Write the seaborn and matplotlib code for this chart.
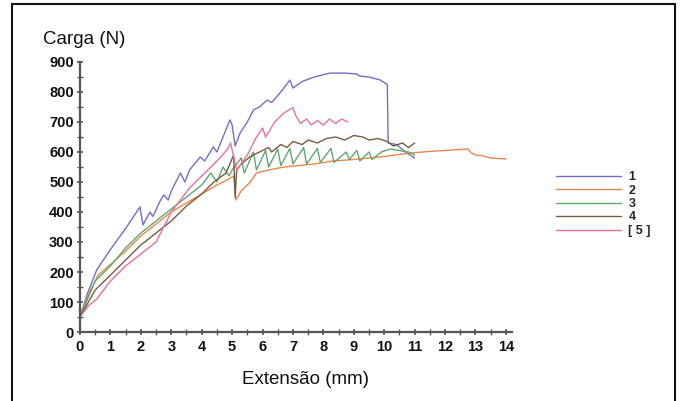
import matplotlib
matplotlib.use("Agg")
import matplotlib.pyplot as plt
from matplotlib.patches import Rectangle
from matplotlib.ticker import MultipleLocator
import seaborn as sns
import pandas as pd

sns.set_style("ticks")
plt.rcParams['font.family'] = ['Liberation Sans', 'DejaVu Sans']

# ---- data ----
labels = ["1", "2", "3", "4", "[ 5 ]"]

x1 = [0, 0.25, 0.55, 1.0, 1.5, 1.97, 2.07, 2.3, 2.4, 2.6, 2.75, 2.9, 3.0, 3.3, 3.45, 3.6, 3.95, 4.1, 4.38, 4.5,
      4.7, 4.93, 5.0, 5.1, 5.26, 5.5, 5.7, 5.9, 6.15, 6.3, 6.6, 6.9, 7.0, 7.3, 7.7, 8.2, 8.7, 9.1, 9.2, 9.5,
      9.87, 10.1, 10.13, 10.4, 10.7, 11.0]
y1 = [50, 130, 207, 275, 345, 417, 357, 400, 385, 430, 457, 440, 470, 530, 500, 540, 583, 570, 617, 600,
      650, 707, 690, 620, 663, 700, 740, 750, 773, 765, 800, 840, 813, 835, 850, 863, 863, 860, 853, 850,
      840, 825, 630, 625, 600, 580]

x2 = [0, 0.3, 0.6, 1.0, 1.5, 2.0, 2.5, 3.0, 3.5, 4.0, 4.5, 4.9, 5.05, 5.12, 5.3, 5.6, 5.8, 6.2, 6.7, 7.2,
      7.7, 8.3, 9.0, 9.5, 10.0, 10.5, 11.0, 11.5, 12.0, 12.4, 12.75, 12.85, 13.0, 13.2, 13.5, 13.8, 14.0]
y2 = [50, 130, 190, 225, 270, 320, 360, 400, 430, 460, 490, 510, 520, 440, 470, 500, 530, 540, 550, 555,
      560, 570, 575, 580, 585, 592, 598, 602, 605, 608, 610, 598, 590, 588, 580, 578, 577]

x3 = [0, 0.5, 1.0, 1.5, 2.0, 2.5, 3.0, 3.5, 4.0, 4.3, 4.5, 4.7, 4.9, 5.0, 5.3, 5.4, 5.7, 5.8, 6.1, 6.2,
      6.5, 6.6, 6.9, 7.0, 7.35, 7.45, 7.8, 7.9, 8.25, 8.35, 8.75, 8.85, 9.1, 9.2, 9.5, 9.6, 9.9, 10.2, 10.5,
      10.8, 11.0]
y3 = [50, 170, 220, 280, 330, 370, 410, 450, 490, 530, 500, 550, 520, 540, 580, 530, 600, 540, 605, 550,
      610, 555, 612, 560, 615, 560, 612, 565, 612, 565, 600, 575, 605, 570, 600, 575, 600, 610, 605,
      600, 590]

x4 = [0, 0.5, 1.0, 1.5, 2.0, 2.5, 3.0, 3.5, 4.0, 4.4, 4.8, 5.05, 5.1, 5.15, 5.3, 5.6, 5.9, 6.2, 6.3, 6.6,
      6.8, 7.0, 7.3, 7.5, 7.8, 8.1, 8.4, 8.7, 9.0, 9.3, 9.5, 9.8, 10.1, 10.3, 10.6, 10.8, 11.0]
y4 = [50, 140, 190, 240, 290, 330, 370, 420, 460, 500, 530, 590, 450, 540, 560, 585, 600, 615, 600, 625,
      615, 635, 625, 640, 630, 645, 650, 640, 655, 650, 640, 645, 635, 620, 630, 615, 630]

x5 = [0, 0.3, 0.55, 1.0, 1.5, 2.0, 2.5, 3.0, 3.6, 4.3, 4.6, 4.85, 4.95, 5.15, 5.5, 5.8, 6.0, 6.1, 6.4, 6.7,
      7.0, 7.1, 7.25, 7.45, 7.6, 7.8, 8.0, 8.2, 8.4, 8.6, 8.8]
y5 = [50, 90, 110, 170, 220, 260, 300, 400, 480, 550, 580, 610, 630, 540, 590, 650, 680, 650, 700, 730,
      748, 720, 695, 710, 690, 705, 690, 710, 695, 710, 700]

xs = [x1, x2, x3, x4, x5]
ys = [y1, y2, y3, y4, y5]
colors = ["#6f6fc8", "#e8864e", "#5ea86c", "#7a5c3c", "#ec6f9e"]

# ---- figure ----
fig = plt.figure(figsize=(6.81, 4.01), dpi=100)
ax = fig.add_axes([80 / 681, 1 - 332 / 401, (512 - 80) / 681, (332 - 62) / 401])

for xv, yv, c, lab in zip(xs, ys, colors, labels):
    df = pd.DataFrame({"x": xv, "y": yv})
    sns.lineplot(data=df, x="x", y="y", sort=False, color=c, lw=1.0, label=lab, ax=ax)

ax.set_xlim(0, 14.2)
ax.set_ylim(0, 900)
ax.xaxis.set_minor_locator(MultipleLocator(0.5))
ax.yaxis.set_minor_locator(MultipleLocator(50))
ax.set_xticks(range(0, 15))
ax.set_yticks(range(0, 1000, 100))
ax.set_xlabel("")
ax.set_ylabel("")
sns.despine(ax=ax)
for s in ["left", "bottom"]:
    ax.spines[s].set_color("#555555")
    ax.spines[s].set_linewidth(1.6)
ax.tick_params(which="major", direction="inout", length=5, width=1.2, color="#555555",
               labelsize=10.5, pad=2)
ax.tick_params(axis="x", which="major", pad=3)
ax.tick_params(which="minor", direction="inout", length=4, width=1.0, color="#555555")
for t in ax.get_xticklabels() + ax.get_yticklabels():
    t.set_fontweight("bold")
    t.set_color("#111111")

fig.text(43 / 681, 1 - 40 / 401, "Carga (N)", fontsize=13.5, va="center", ha="left", color="#111111")
fig.text(305 / 681, 1 - 379 / 401, "Extensão (mm)", fontsize=13.5, va="center", ha="center", color="#111111")

leg = ax.legend(loc="upper left", bbox_to_anchor=(551 / 681, 1 - 166 / 401),
                bbox_transform=fig.transFigure, frameon=False, fontsize=9,
                handlelength=5.2, handletextpad=0.6, labelspacing=0.12, borderaxespad=0)
for t in leg.get_texts():
    t.set_fontweight("bold")

fig.add_artist(Rectangle((12 / 681, -0.05), (675 - 12) / 681, 1.05 - 4 / 401,
                         transform=fig.transFigure, fill=False, edgecolor="#111111", lw=1.5))

fig.savefig("out.png", dpi=100)
